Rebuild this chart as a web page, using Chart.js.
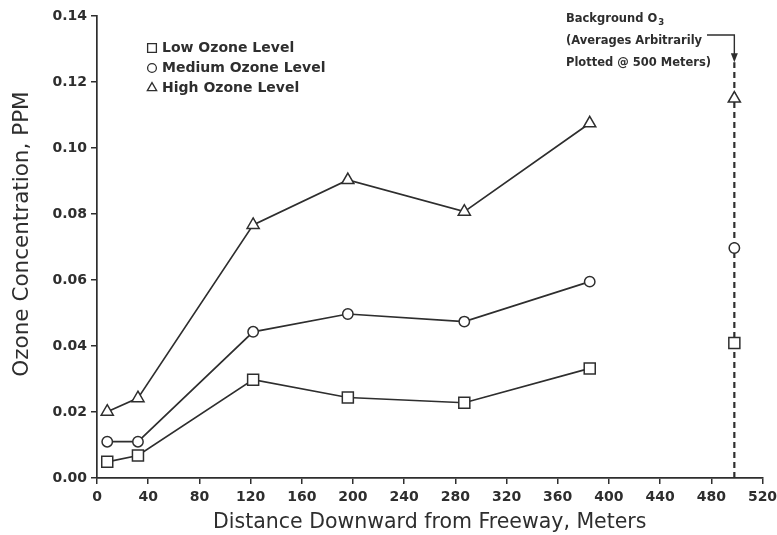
<!DOCTYPE html>
<html>
<head>
<meta charset="utf-8">
<script src="https://cdn.jsdelivr.net/npm/chart.js@4.4.1/dist/chart.umd.min.js"></script>
<style>
  html, body { margin: 0; padding: 0; background: #ffffff; }
  canvas { display: block; }
</style>
</head>
<body>
<canvas id="ozoneChart" width="777" height="535"></canvas>
<script>
// Sampling distances downwind of the freeway (meters)
const distances = [8, 32, 122, 196, 287, 385];

// Ozone concentration (ppm) per ozone-level group
const lowOzone    = [0.0049, 0.0068, 0.0298, 0.0244, 0.0228, 0.0332];
const mediumOzone = [0.0110, 0.0110, 0.0443, 0.0497, 0.0474, 0.0595];
const highOzone   = [0.0201, 0.0242, 0.0767, 0.0903, 0.0807, 0.1075];

const seriesLabels = ['Low Ozone Level', 'Medium Ozone Level', 'High Ozone Level'];

// Background O3 averages, shown at a nominal distance
const backgroundDistance = 498;
const backgroundOzone = [0.0409, 0.0697, 0.1150]; // low, medium, high
const backgroundTop = 0.126;

// Axis ticks
const xTicks = [0, 40, 80, 120, 160, 200, 240, 280, 320, 360, 400, 440, 480, 520];
const yTicks = [0.00, 0.02, 0.04, 0.06, 0.08, 0.10, 0.12, 0.14];

const INK = '#2e2e2e';
const FONT = '"DejaVu Sans", sans-serif';
const markerStyles = ['rect', 'circle', 'triangle'];
const markerRadius = { rect: 7.8, circle: 5.2, triangle: 7 };

const toPoints = (ys) => distances.map((x, i) => ({ x, y: ys[i] }));

function seriesDataset(label, values, style) {
  return {
    label,
    data: toPoints(values),
    borderColor: INK,
    borderWidth: 1.7,
    pointStyle: style,
    pointRadius: markerRadius[style],
    pointHoverRadius: markerRadius[style],
    pointBorderWidth: 1.5,
    pointBorderColor: INK,
    pointBackgroundColor: '#ffffff',
    tension: 0,
    fill: false,
    order: 1
  };
}

// Draws the y-axis title, the legend block and the background-O3 note with its leader arrow
const notesPlugin = {
  id: 'notes',
  afterDatasetsDraw(chart) {
    const { ctx } = chart;
    const xs = chart.scales.x, ys = chart.scales.y;
    ctx.save();

    // Y-axis title
    ctx.save();
    ctx.translate(22, 234);
    ctx.rotate(-Math.PI / 2);
    ctx.font = '21.5px ' + FONT;
    ctx.fillStyle = INK;
    ctx.textAlign = 'center';
    ctx.textBaseline = 'middle';
    ctx.fillText('Ozone Concentration, PPM', 0, 0);
    ctx.restore();

    // Legend
    ctx.font = 'bold 14px ' + FONT;
    ctx.textBaseline = 'middle';
    ctx.textAlign = 'left';
    const legendX = 152, legendY = 48, legendStep = 20;
    seriesLabels.forEach((label, i) => {
      const y = legendY + i * legendStep;
      const style = markerStyles[i];
      ctx.strokeStyle = INK;
      ctx.lineWidth = 1.3;
      ctx.fillStyle = '#ffffff';
      Chart.helpers.drawPoint(ctx, {
        pointStyle: style,
        radius: style === 'rect' ? 6.2 : (style === 'circle' ? 4.4 : 5.4),
        borderWidth: 1.3
      }, legendX, y);
      ctx.fillStyle = INK;
      ctx.fillText(label, legendX + 10, y);
    });

    // Background note
    ctx.fillStyle = INK;
    ctx.font = 'bold 11.5px ' + FONT;
    const noteX = 566;
    ctx.fillText('Background O', noteX, 19);
    const w = ctx.measureText('Background O').width;
    ctx.font = 'bold 8.5px ' + FONT;
    ctx.fillText('3', noteX + w + 1, 23);
    ctx.font = 'bold 11.5px ' + FONT;
    ctx.fillText('(Averages Arbitrarily', noteX, 41);
    ctx.fillText('Plotted @ 500 Meters)', noteX, 63);

    // Leader line with arrow to the background column
    const px = xs.getPixelForValue(backgroundDistance);
    const tipY = ys.getPixelForValue(backgroundTop);
    ctx.strokeStyle = INK;
    ctx.lineWidth = 1.4;
    ctx.beginPath();
    ctx.moveTo(707, 35);
    ctx.lineTo(px, 35);
    ctx.lineTo(px, tipY - 6);
    ctx.stroke();
    ctx.beginPath();
    ctx.moveTo(px, tipY);
    ctx.lineTo(px - 3.5, tipY - 9);
    ctx.lineTo(px + 3.5, tipY - 9);
    ctx.closePath();
    ctx.fill();

    ctx.restore();
  }
};

new Chart(document.getElementById('ozoneChart'), {
  type: 'line',
  data: {
    datasets: [
      seriesDataset(seriesLabels[0], lowOzone, 'rect'),
      seriesDataset(seriesLabels[1], mediumOzone, 'circle'),
      seriesDataset(seriesLabels[2], highOzone, 'triangle'),
      {
        label: 'Background O3',
        data: backgroundOzone.map(y => ({ x: backgroundDistance, y })),
        showLine: false,
        pointStyle: markerStyles,
        pointRadius: markerStyles.map(s => markerRadius[s]),
        pointBorderWidth: 1.5,
        pointBorderColor: INK,
        pointBackgroundColor: '#ffffff',
        order: 0
      },
      {
        label: 'Background column',
        data: [{ x: backgroundDistance, y: 0 }, { x: backgroundDistance, y: backgroundTop }],
        borderColor: INK,
        borderWidth: 2.2,
        borderDash: [6, 4],
        pointRadius: 0,
        fill: false,
        order: 2
      }
    ]
  },
  options: {
    responsive: false,
    animation: false,
    events: [],
    layout: { padding: { left: 0, right: 14.5, top: 16, bottom: 0 } },
    plugins: {
      legend: { display: false },
      tooltip: { enabled: false }
    },
    scales: {
      x: {
        type: 'linear',
        min: 0,
        max: 520,
        afterBuildTicks: (scale) => { scale.ticks = xTicks.map(v => ({ value: v })); },
        afterFit: (scale) => {
          scale.height = 57;
          scale.paddingLeft = 0;
          scale.paddingRight = 0;
        },
        border: { display: true, color: INK, width: 1.7 },
        grid: { display: true, drawOnChartArea: false, drawTicks: true, tickLength: 6, color: INK, lineWidth: 1.5 },
        ticks: {
          color: INK,
          font: { family: FONT, size: 14, weight: 'bold' },
          padding: 5,
          maxRotation: 0,
          callback: (v) => String(v)
        },
        title: {
          display: true,
          text: 'Distance Downward from Freeway, Meters',
          color: INK,
          font: { family: FONT, size: 20.5 },
          padding: { top: 0, bottom: 0 }
        }
      },
      y: {
        type: 'linear',
        min: 0,
        max: 0.14,
        afterBuildTicks: (scale) => { scale.ticks = yTicks.map(v => ({ value: v })); },
        afterFit: (scale) => { scale.width = 97; },
        border: { display: true, color: INK, width: 1.7 },
        grid: { display: true, drawOnChartArea: false, drawTicks: true, tickLength: 6, color: INK, lineWidth: 1.5 },
        ticks: {
          color: INK,
          font: { family: FONT, size: 14, weight: 'bold' },
          padding: 4,
          callback: (v) => Number(v).toFixed(2)
        },
        title: { display: false }
      }
    }
  },
  plugins: [notesPlugin]
});
</script>
</body>
</html>
